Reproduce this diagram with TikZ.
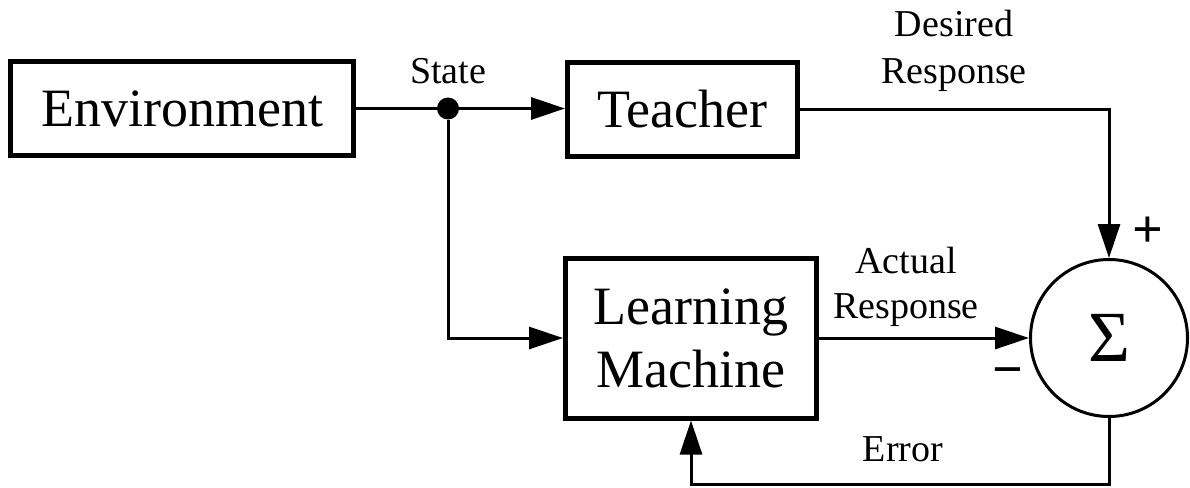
\documentclass[tikz,border=0pt]{standalone}
\usepackage{fontspec}
\setmainfont{Liberation Serif}
\usetikzlibrary{arrows.meta}
\begin{document}
\begin{tikzpicture}[x=1pt,y=-1pt,
  box/.style={draw, line width=5pt, inner sep=0pt, font=\fontsize{54}{63}\selectfont, align=center},
  lbl/.style={font=\fontsize{38}{46}\selectfont, anchor=base, inner sep=0pt},
  conn/.style={line width=3pt},
  arr/.style={conn, -{Triangle[length=34pt,width=22pt]}},
  sgn/.style={font=\fontsize{54}{60}\selectfont\bfseries, inner sep=0pt}]
\useasboundingbox (0,0) rectangle (1190,487);
\node[box, minimum width=343pt, minimum height=94pt] (env) at (182,108.5) {Environment};
\node[box, minimum width=230pt, minimum height=94pt] (teacher) at (682.5,109.5) {Teacher};
\node[box, minimum width=251pt, minimum height=160pt] (lm) at (691,338) {Learning\\Machine};
\node[draw, circle, line width=3pt, minimum size=157pt, inner sep=0pt, font=\fontsize{72}{76}\selectfont] (sum) at (1109,338) {\raisebox{-6pt}{Σ}};
\node[fill, circle, inner sep=0pt, minimum size=22pt] (dot) at (448,108.5) {};
\node[lbl] (state) at (448,83) {State};
\node[lbl] (des1) at (954,37) {Desired};
\node[lbl] (des2) at (954,83) {Response};
\node[lbl] (act1) at (906,273) {Actual};
\node[lbl] (act2) at (906,318) {Response};
\node[lbl] (err) at (903,461) {Error};
\node[sgn] (plus) at (1148,232) {+};
\node[sgn] (minus) at (1008,378) {−};
\draw[conn] (env) -- (dot);
\draw[arr] (dot) -- (dot -| teacher.west);
\draw[arr] (dot) |- (lm.west);
\draw[arr] (teacher.east) -| (sum.north);
\draw[arr] (lm.east) -- (sum.west);
\coordinate (eb) at (0,484);
\draw[arr] (sum.south) |- (eb -| lm.south) -- (lm.south);
\end{tikzpicture}
\end{document}
